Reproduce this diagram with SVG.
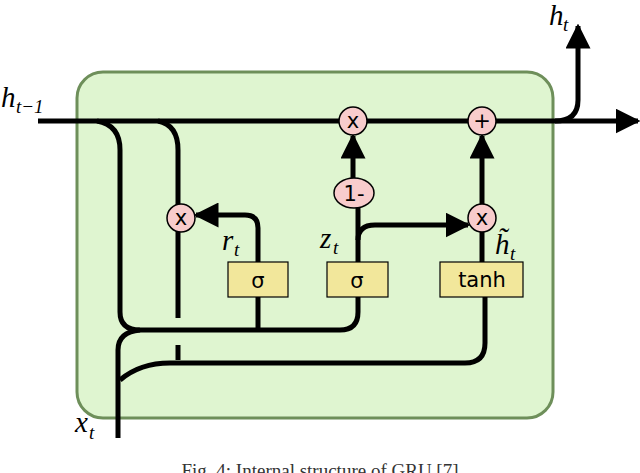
<svg xmlns="http://www.w3.org/2000/svg" width="640" height="473" viewBox="0 0 640 473">
<defs>
<style>
.w{fill:none;stroke:#000;stroke-width:5}
.op{fill:#f8cccc;stroke:#000;stroke-width:1.5}
.bx{fill:#f2e79b;stroke:#000;stroke-width:1.2}
.t{font-family:"DejaVu Sans",sans-serif;font-size:21px;text-anchor:middle}
.m{font-family:"Liberation Serif",serif;font-style:italic;font-size:29px}
.s{font-family:"Liberation Serif",serif;font-style:italic;font-size:19px}
</style>
<marker id="a" viewBox="0 0 10 10" refX="9" refY="5" markerWidth="5" markerHeight="5" orient="auto" markerUnits="strokeWidth"><path d="M0,0L10,5L0,10z"/></marker>
</defs>
<rect x="77" y="72" width="476" height="346" rx="26" fill="#dff5d0" stroke="#6e8f5a" stroke-width="3"/>
<g id="connectors">
<path class="w" d="M38,121H638" marker-end="url(#a)"/>
<path class="w" d="M555,121Q578,121 578,100V26" marker-end="url(#a)"/>
<path class="w" d="M97,121Q120,125 120,150V312Q120,330 140,330H340Q358,330 358,312V297"/>
<path class="w" d="M258,330V297"/>
<path class="w" d="M158,121Q178,125 178,150V318"/>
<path class="w" d="M178,345V360"/>
<path class="w" d="M118,438V350Q118,332 140,330"/>
<path class="w" d="M120,380Q140,363 170,363H465Q485,363 485,343V297"/>
<path class="w" d="M258,262V228Q258,215 245,215H196" marker-end="url(#a)"/>
<path class="w" d="M358,262V179"/>
<path class="w" d="M353,179V136" marker-end="url(#a)"/>
<path class="w" d="M358,240Q358,225 375,225H468" marker-end="url(#a)"/>
<path class="w" d="M482,262V232"/>
<path class="w" d="M482,205V136" marker-end="url(#a)"/>
</g>
<g id="mul1"><circle class="op" cx="353" cy="121" r="14"/><text class="t" x="353" y="128">x</text></g>
<g id="add"><circle class="op" cx="482" cy="121" r="14"/><text class="t" x="482" y="128">+</text></g>
<g id="one-minus"><ellipse class="op" cx="354" cy="193" rx="20" ry="15"/><text class="t" x="354" y="201">1-</text></g>
<g id="mul-r"><circle class="op" cx="181" cy="218" r="14"/><text class="t" x="181" y="225">x</text></g>
<g id="mul-h"><circle class="op" cx="482" cy="218" r="14"/><text class="t" x="482" y="225">x</text></g>
<g id="sig-r"><rect class="bx" x="228" y="262" width="60" height="35"/><text class="t" x="258" y="288" font-size="27">σ</text></g>
<g id="sig-z"><rect class="bx" x="327" y="262" width="61" height="35"/><text class="t" x="357" y="288" font-size="27">σ</text></g>
<g id="tanh"><rect class="bx" x="440" y="262" width="83" height="35"/><text class="t" x="482" y="287">tanh</text></g>
<text class="m" x="1" y="107">h</text><text class="s" x="16" y="113">t−1</text>
<text class="m" x="549" y="25">h</text><text class="s" x="563" y="31">t</text>
<text class="m" x="222" y="250">r</text><text class="s" x="234" y="256">t</text>
<text class="m" x="320" y="248">z</text><text class="s" x="333" y="254">t</text>
<text class="m" x="495" y="254">h̃</text><text class="s" x="510" y="260">t</text>
<text class="m" x="75" y="432">x</text><text class="s" x="89" y="439">t</text>
<text x="320" y="477" font-family="Liberation Serif,serif" font-size="19" fill="#333" text-anchor="middle">Fig. 4: Internal structure of GRU [7]</text>
</svg>
